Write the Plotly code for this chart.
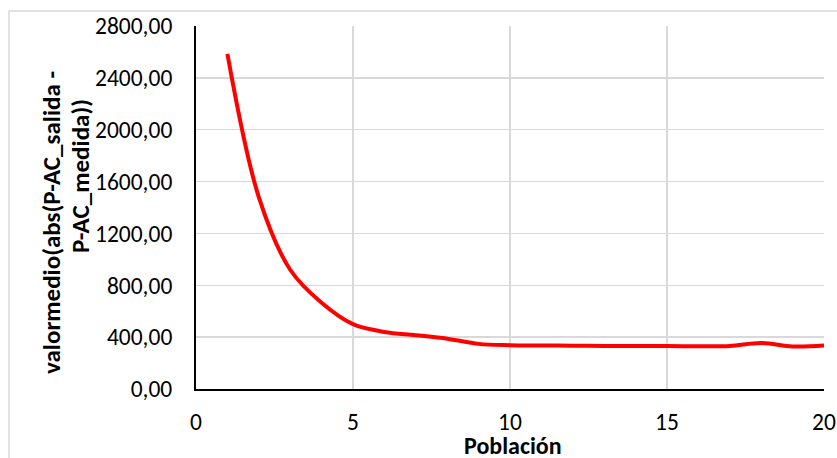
import plotly.graph_objects as go

poblacion = [1, 2, 3, 4, 5, 6, 7, 8, 9, 10, 11, 12, 13, 14, 15, 16, 17, 18, 19, 20]
valor_medio = [2585, 1480, 920, 665, 500, 440, 415, 388, 348, 338, 336, 334, 332, 331, 331, 330, 332, 355, 328, 335]

y_tick_vals = [0, 400, 800, 1200, 1600, 2000, 2400, 2800]
y_tick_text = ["0,00", "400,00", "800,00", "1200,00", "1600,00", "2000,00", "2400,00", "2800,00"]
x_tick_vals = [0, 5, 10, 15, 20]
x_tick_text = ["0", "5", "10", "15", "20"]

FONT = "Carlito, Lato, 'Liberation Sans', sans-serif"

fig = go.Figure()
fig.add_trace(go.Scatter(
    x=poblacion, y=valor_medio, mode="lines",
    line=dict(color="#ff0000", width=4, shape="spline", smoothing=1.0),
    showlegend=False, hoverinfo="skip"))

W, H = 837, 458
L, R, T, B = 196, 13, 26, 69
pw = W - L - R
ph = H - T - B

def px_x(p):
    return (p - L) / pw

def px_y(p):
    return (H - B - p) / ph

fig.update_layout(
    width=W, height=H,
    margin=dict(l=L, r=R, t=T, b=B, autoexpand=False),
    paper_bgcolor="white", plot_bgcolor="white",
    font=dict(family=FONT, color="#000000", size=23.5),
    xaxis=dict(range=[0, 20], tickvals=x_tick_vals, ticktext=x_tick_text,
               showgrid=True, gridcolor="#d9d9d9", gridwidth=1.5,
               showline=True, linecolor="#000000", linewidth=2,
               zeroline=False, ticks="", ticklabelstandoff=11, automargin=False,
               tickfont=dict(size=23.5, family=FONT)),
    yaxis=dict(range=[0, 2800], tickvals=y_tick_vals, ticktext=y_tick_text,
               showgrid=True, gridcolor="#d9d9d9", gridwidth=1.5,
               showline=True, linecolor="#000000", linewidth=2,
               zeroline=False, ticks="", ticklabelstandoff=17, automargin=False,
               tickfont=dict(size=23.5, family=FONT)),
    shapes=[dict(type="rect", xref="paper", yref="paper",
                 x0=px_x(9), x1=px_x(900), y0=px_y(11), y1=px_y(520),
                 line=dict(color="#d9d9d9", width=1.5), fillcolor="rgba(0,0,0,0)",
                 layer="below")],
    annotations=[
        dict(text="<b>valormedio(abs(P-AC_salida -</b>",
             xref="paper", yref="paper", x=px_x(51), y=px_y(223),
             xanchor="center", yanchor="middle", textangle=-90, showarrow=False,
             font=dict(size=25, family=FONT)),
        dict(text="<b>P-AC_medida))</b>",
             xref="paper", yref="paper", x=px_x(81), y=px_y(176),
             xanchor="center", yanchor="middle", textangle=-90, showarrow=False,
             font=dict(size=25, family=FONT)),
        dict(text="<b>Población</b>", xref="paper", yref="paper",
             x=px_x(513), y=px_y(445), xanchor="center", yanchor="middle",
             showarrow=False, font=dict(size=24, family=FONT)),
    ],
)

fig.write_html("out.html", config={"displayModeBar": False, "staticPlot": True},
               post_script="document.body.style.margin='0';document.body.style.padding='0';document.body.style.overflow='hidden';")
